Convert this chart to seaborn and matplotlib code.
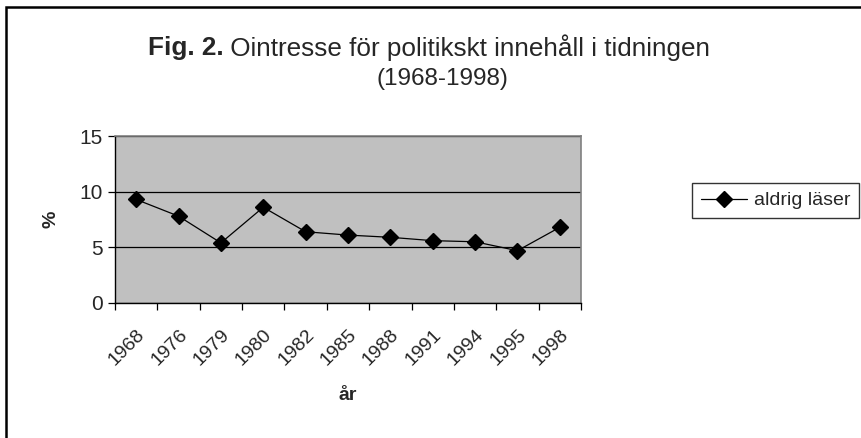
import matplotlib
matplotlib.use("Agg")
import matplotlib.pyplot as plt
import matplotlib.transforms as mtransforms
import seaborn as sns
import pandas as pd
from matplotlib.patches import Rectangle
from matplotlib.ticker import FixedLocator, NullFormatter

years = ["1968", "1976", "1979", "1980", "1982", "1985", "1988", "1991", "1994", "1995", "1998"]
aldrig_laser = [9.3, 7.8, 5.4, 8.6, 6.4, 6.1, 5.9, 5.6, 5.5, 4.7, 6.8]

df = pd.DataFrame({"år": years, "%": aldrig_laser})

sns.set_theme(style="white")
plt.rcParams["font.family"] = ["Liberation Sans", "DejaVu Sans"]

fig = plt.figure(figsize=(8.61, 4.38), dpi=100)
ax = fig.add_axes([115 / 861, 1 - 303 / 438, 466 / 861, 167 / 438])
ax.set_facecolor("#c0c0c0")

sns.lineplot(data=df, x="år", y="%", ax=ax, color="black", linewidth=0.9,
             marker="D", markersize=8, markeredgecolor="black", markeredgewidth=1,
             label="aldrig läser", sort=False)

n = len(years)
ax.set_xlim(-0.5, n - 0.5)
ax.set_ylim(0, 15)
ax.set_yticks([0, 5, 10, 15])
ax.grid(axis="y", color="black", linewidth=0.9)
ax.set_axisbelow(True)

# category boundaries as major ticks, labels on the centres
ax.xaxis.set_major_locator(FixedLocator([i - 0.5 for i in range(n + 1)]))
ax.xaxis.set_major_formatter(NullFormatter())
ax.xaxis.set_minor_locator(FixedLocator(list(range(n))))
ax.set_xticklabels(years, minor=True, rotation=45, ha="right",
                   rotation_mode="anchor", fontsize=14)
shift = mtransforms.ScaledTranslation(-8 / 100, 0, fig.dpi_scale_trans)
for lab in ax.get_xticklabels(minor=True):
    lab.set_transform(lab.get_transform() + shift)
ax.tick_params(axis="x", which="major", length=5, width=0.9, color="black",
               direction="out", bottom=True)
ax.tick_params(axis="x", which="minor", length=0, pad=17)
ax.tick_params(axis="y", length=5, width=0.9, color="black", direction="out",
               left=True, labelsize=15, pad=4)

for side in ["top", "right"]:
    ax.spines[side].set_color("#808080")
    ax.spines[side].set_linewidth(1.2)
for side in ["left", "bottom"]:
    ax.spines[side].set_color("black")
    ax.spines[side].set_linewidth(1.0)

ax.set_xlabel("år", fontsize=14, fontweight="bold", labelpad=13)
ax.set_ylabel("%", fontsize=14, fontweight="bold", labelpad=14)

leg = ax.legend(loc="upper left", bbox_to_anchor=(692 / 861, 1 - 183 / 438),
                bbox_transform=fig.transFigure, frameon=True, fancybox=False,
                fontsize=14, handlelength=2.4, handletextpad=0.35, borderpad=0.45,
                borderaxespad=0)
leg.get_frame().set_edgecolor("black")
leg.get_frame().set_linewidth(1.0)

# title: bold "Fig. 2." followed by normal text, centred as one line
renderer = fig.canvas.get_renderer()
t_bold = fig.text(0, 1 - 48 / 438, "Fig. 2.", ha="left", va="center",
                  fontsize=18.8, fontweight="bold")
t_rest = fig.text(0, 1 - 48 / 438, " Ointresse för politikskt innehåll i tidningen",
                  ha="left", va="center", fontsize=18.8)
wb = t_bold.get_window_extent(renderer).width
wr = t_rest.get_window_extent(renderer).width
x0 = 429 - (wb + wr) / 2
t_bold.set_x(x0 / fig.bbox.width)
t_rest.set_x((x0 + wb) / fig.bbox.width)
fig.text(442 / 861, 1 - 79 / 438, "(1968-1998)", ha="center", va="center", fontsize=17.5)

fig.patches.append(Rectangle((6 / 861, -0.1), 1.2, 1.1 - 7 / 438, transform=fig.transFigure,
                             fill=False, edgecolor="black", linewidth=1.8))

fig.savefig("out.png", dpi=100)
